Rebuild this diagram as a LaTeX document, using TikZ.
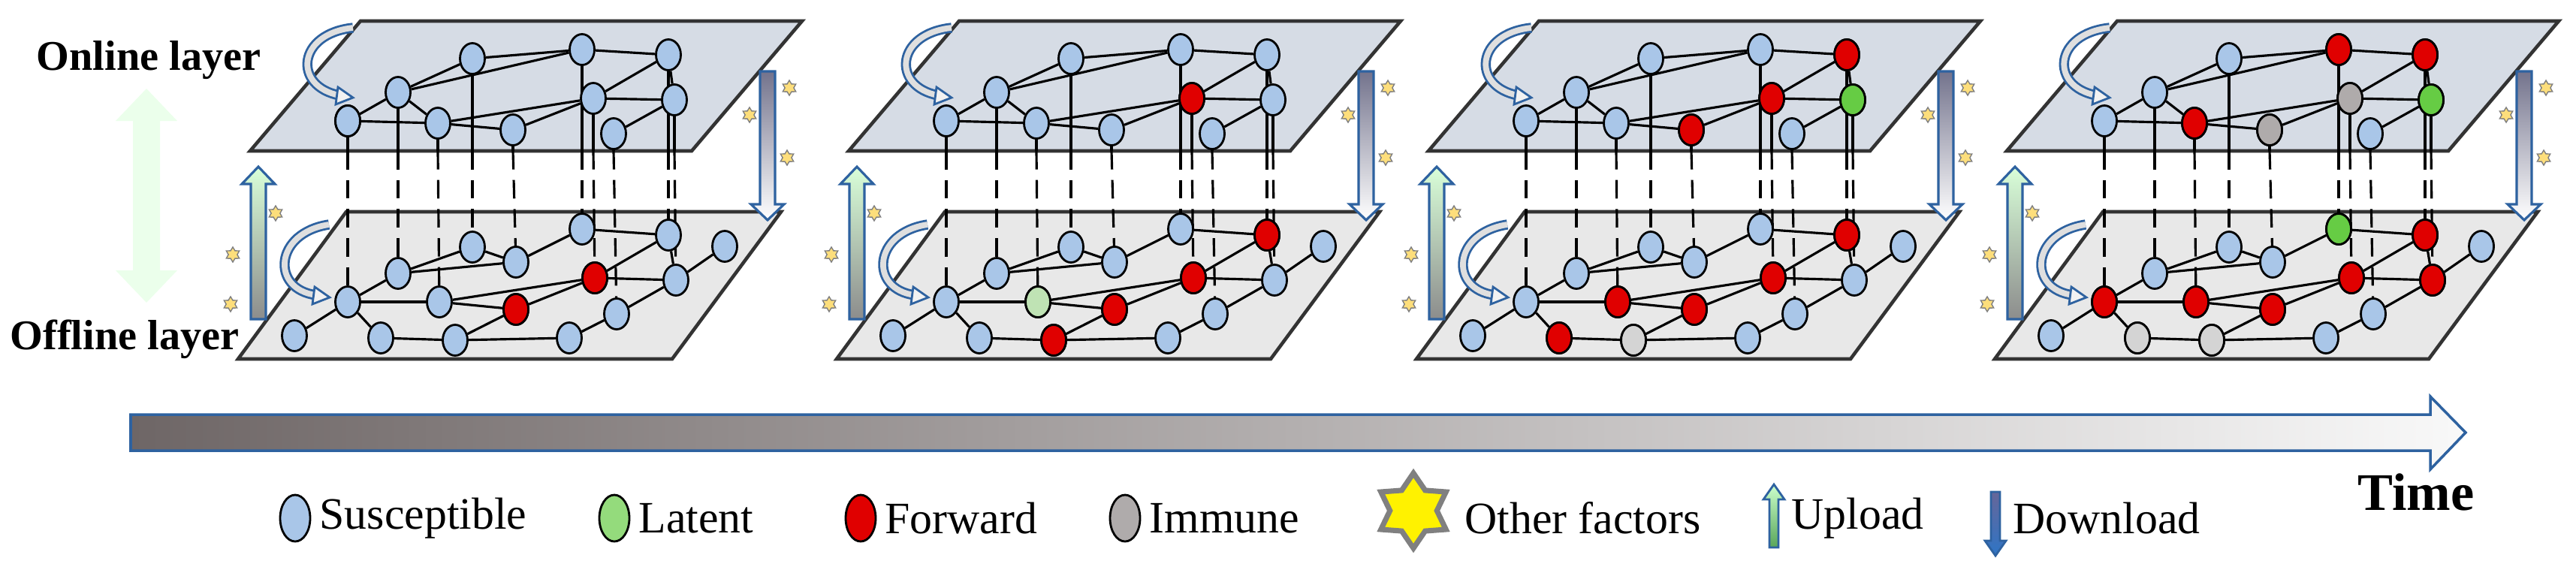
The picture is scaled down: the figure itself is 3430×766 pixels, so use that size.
\documentclass[tikz,border=0pt]{standalone}
\usepackage{fontspec}
\setmainfont{Liberation Serif}
\usetikzlibrary{shapes.geometric}

\definecolor{susc}{HTML}{A9C6E8}
\definecolor{fwdc}{HTML}{E00000}
\definecolor{latc}{HTML}{66CC44}
\definecolor{latlc}{HTML}{BFE3B4}
\definecolor{immc}{HTML}{AFABAB}
\definecolor{immlc}{HTML}{D4D4D4}
\definecolor{onlc}{HTML}{D6DCE5}
\definecolor{offc}{HTML}{E8E8E8}
\definecolor{edgec}{HTML}{2E62A0}
\definecolor{downc}{HTML}{2E75C6}
\definecolor{timec}{HTML}{6E6666}

\pgfdeclarelayer{back}
\pgfdeclarelayer{mid}
\pgfsetlayers{back,mid,main}

\tikzset{
    vertex/.style={ellipse,draw,line width=0.8pt,inner sep=0pt,
        minimum width={33*0.01cm},minimum height={41*0.01cm},fill=susc},
    sus/.style={vertex,fill=susc},
    fwd/.style={vertex,fill=fwdc},
    lat/.style={vertex,fill=latc},
    latl/.style={vertex,fill=latlc},
    imm/.style={vertex,fill=immc},
    imml/.style={vertex,fill=immlc},
    key/.style={minimum width={40*0.01cm},minimum height={62*0.01cm}},
    plane/.style={draw=black!80,line width=1.3pt},
    link/.style={line width=0.9pt},
    factor/.style={star,star points=6,star point ratio=1.7,draw=gray,
        fill=yellow!55!orange!50,inner sep=0pt,minimum size={20*0.01cm}},
    turn/.style={draw=edgec,line width=0.8pt,double=gray!25,double distance=2.2pt},
    label/.style={font=\fontsize{17}{19}\selectfont,anchor=west,inner sep=0pt}
}

% one time step: offset, prefix, online overrides, offline overrides
\newcommand{\Panel}[4]{%
\begin{scope}[shift={(#1,0)},name prefix=#2-]
    \begin{pgfonlayer}{back}
        \fill[onlc] (480,28) -- (1068,28) -- (921,201) -- (333,201) -- cycle;
        \draw[plane] (333,201) -- (480,28) -- (1068,28) -- (921,201) -- cycle;
        \fill[offc] (461,282) -- (1040,282) -- (895,478) -- (317,478) -- cycle;
        \draw[plane] (317,478) -- (461,282) -- (1040,282) -- (895,478) -- cycle;
    \end{pgfonlayer}
    \coordinate (obot) at (0,201);
    \foreach \n/\x/\y in {u1/463/161,u2/530/123,u3/629/78,u4/775/66,u5/890/73,
        u6/790/131,u7/898/133,u8/583/164,u9/683/173,u10/817/178,
        l1/392/447,l2/463/402,l3/530/364,l4/629/329,l5/687/349,l6/775/305,
        l7/890/313,l8/585/402,l9/687/412,l10/792/370,l11/900/373,
        l12/507/450,l13/606/453,l14/758/450,l15/821/418,l16/965/328}
        \node[sus] (\n) at (\x,\y) {};
    \foreach \n/\s in {#3,#4}
        \node[\s] at (\n) {};
    \begin{pgfonlayer}{mid}
        \foreach \a/\b in {u1/u2,u2/u3,u3/u4,u4/u5,u2/u4,u2/u8,u1/u8,u8/u6,u8/u9,
            u9/u6,u6/u7,u6/u5,u5/u7,u10/u7,
            l1/l2,l2/l3,l3/l4,l4/l5,l5/l6,l6/l7,l3/l5,l2/l8,l8/l9,l8/l10,l9/l10,
            l10/l11,l10/l7,l7/l11,l11/l16,l2/l12,l12/l13,l13/l9,l13/l14,l14/l15,l15/l11}
            \draw[link] (\a) -- (\b);
        \foreach \a/\b in {u1/l2,u2/l3,u8/l8,u3/l4,u9/l5,u4/l6,u6/l10,u10/l15,u5/l7,u7/l11} {
            \draw[link] (\a.center) -- (\a |- obot);
            \draw[link,dash pattern=on 7pt off 4pt] (\a |- obot) -- (\b.center);
        }
    \end{pgfonlayer}
    % turning arrows
    \draw[turn] (470,37) .. controls (395,45) and (390,115) .. (452,127);
    \fill[gray!10,draw=edgec,line width=0.8pt] (450,116) -- (470,130) -- (447,139) -- cycle;
    \draw[turn] (438,299) .. controls (365,310) and (360,385) .. (421,393);
    \fill[gray!10,draw=edgec,line width=0.8pt] (419,382) -- (439,396) -- (416,405) -- cycle;
    % upload
    \shade[top color=green!15!white,bottom color=gray!90,draw=edgec,line width=0.9pt]
        (334,425) -- (334,245) -- (322,245) -- (344,222) -- (366,245) -- (354,245) -- (354,425) -- cycle;
    % download
    \shade[top color=gray!90!blue,middle color=downc,bottom color=white,draw=edgec,line width=0.9pt]
        (1012,95) -- (1032,95) -- (1032,272) -- (1044,272) -- (1022,293) -- (1000,272) -- (1012,272) -- cycle;
    \foreach \x/\y in {367/284,310/339,307/405,1051/117,998/153,1048/210}
        \node[factor] at (\x,\y) {};
\end{scope}}

\begin{document}
\begin{tikzpicture}[x=0.01cm,y=-0.01cm]
    \useasboundingbox (0,0) rectangle (3430,766);

    % layer labels
    \node[font=\bfseries\fontsize{16}{18}\selectfont] (online) at (198,80) {Online layer};
    \node[font=\bfseries\fontsize{16}{18}\selectfont] (offline) at (166,452) {Offline layer};
    \shade[top color=green!8,middle color=green!40!white,bottom color=green!8]
        (195,118) -- (236,161) -- (213,161) -- (213,360) -- (236,360) -- (195,403)
        -- (154,360) -- (177,360) -- (177,161) -- (154,161) -- cycle;

    \Panel{0}{p1}{u1/sus}{l9/fwd,l10/fwd}
    \Panel{797}{p2}{u6/fwd}{l7/fwd,l8/latl,l9/fwd,l10/fwd,l13/fwd}
    \Panel{1569}{p3}{u5/fwd,u6/fwd,u7/lat,u9/fwd}{l7/fwd,l8/fwd,l9/fwd,l10/fwd,l12/fwd,l13/imml}
    \Panel{2339}{p4}{u4/fwd,u5/fwd,u6/imm,u7/lat,u8/fwd,u9/imm}{l2/fwd,l6/lat,l7/fwd,l8/fwd,l9/fwd,l10/fwd,l11/fwd,l12/imml,l13/imml}

    % time axis
    \shade[left color=timec,right color=gray!5,draw=edgec,line width=1pt]
        (174,552) -- (3236,552) -- (3236,528) -- (3283,576) -- (3236,625) -- (3236,600) -- (174,600) -- cycle;
    \node[font=\bfseries\fontsize{20}{22}\selectfont] (time) at (3217,655) {Time};

    % legend
    \node[sus,key] (k1) at (393,690) {};
    \node[label] at (425,690) {Susceptible};
    \node[lat,key,fill=latc!70!white] (k2) at (818,690) {};
    \node[label] at (850,690) {Latent};
    \node[fwd,key] (k3) at (1146,690) {};
    \node[label] at (1178,690) {Forward};
    \node[imm,key] (k4) at (1498,690) {};
    \node[label] at (1530,690) {Immune};
    \node[star,star points=6,star point ratio=1.6,draw=gray,line width=2pt,fill=yellow,
        inner sep=0pt,minimum size={100*0.01cm}] (k5) at (1882,680) {};
    \node[label] at (1950,690) {Other factors};
    \shade[top color=green!20!white,bottom color=gray!70!green,draw=edgec,line width=0.8pt]
        (2356,729) -- (2356,665) -- (2348,665) -- (2362,645) -- (2376,665) -- (2368,665) -- (2368,729) -- cycle;
    \node[label] at (2385,690) {Upload};
    \shade[top color=gray!80!blue,bottom color=downc,draw=edgec,line width=0.8pt]
        (2651,655) -- (2663,655) -- (2663,720) -- (2671,720) -- (2657,740) -- (2643,720) -- (2651,720) -- cycle;
    \node[label] at (2680,690) {Download};
\end{tikzpicture}
\end{document}
